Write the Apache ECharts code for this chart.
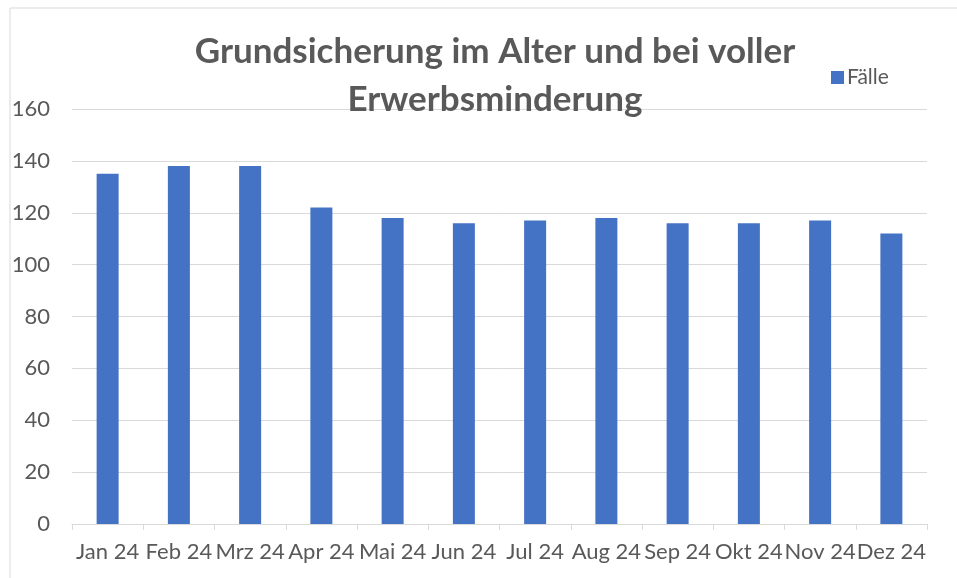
<!DOCTYPE html>
<html>
<head>
<meta charset="utf-8">
<script src="https://cdn.jsdelivr.net/npm/echarts@6/dist/echarts.min.js"></script>
<style>
  html, body { margin: 0; padding: 0; background: #fff; }
  #chart { width: 957px; height: 578px; }
</style>
</head>
<body>
<div id="chart"></div>
<script>
// Daten
const months = ['Jan 24', 'Feb 24', 'Mrz 24', 'Apr 24', 'Mai 24', 'Jun 24', 'Jul 24', 'Aug 24', 'Sep 24', 'Okt 24', 'Nov 24', 'Dez 24']
const faelle = [135, 138, 138, 122, 118, 116, 117, 118, 116, 116, 117, 112]
const seriesName = 'Fälle'
const titleText = 'Grundsicherung im Alter und bei voller\nErwerbsminderung'

const font = 'Lato, "Open Sans", sans-serif'
const grey = '#595959'

const chart = echarts.init(document.getElementById('chart'))
chart.setOption({
  backgroundColor: '#fff',
  animation: false,
  title: {
    text: titleText,
    left: 490,
    top: 23,
    textAlign: 'center',
    textStyle: {
      fontFamily: font,
      fontSize: 35,
      fontWeight: 'bold',
      color: grey,
      lineHeight: 48
    }
  },
  legend: {
    left: 826,
    top: 62,
    itemWidth: 13,
    itemHeight: 13,
    icon: 'rect',
    textStyle: { fontFamily: font, fontSize: 21, color: grey, padding: [0, 0, 0, -2] },
    data: [seriesName]
  },
  graphic: [{
    type: 'rect',
    shape: { x: 10, y: 8, width: 1000, height: 700 },
    style: { fill: 'none', stroke: '#d9d9d9', lineWidth: 1 },
    silent: true
  }],
  grid: { left: 72, right: 30, top: 109, bottom: 54 },
  xAxis: {
    type: 'category',
    data: months,
    axisLine: { lineStyle: { color: '#d9d9d9' } },
    axisTick: { show: true, length: 6, lineStyle: { color: '#d9d9d9' } },
    axisLabel: { fontFamily: font, fontSize: 22, color: grey, margin: 17, interval: 0 }
  },
  yAxis: {
    type: 'value',
    min: 0,
    max: 160,
    interval: 20,
    axisLine: { show: false },
    axisTick: { show: false },
    splitLine: { lineStyle: { color: '#d9d9d9' } },
    axisLabel: { fontFamily: font, fontSize: 22, color: grey, margin: 22 }
  },
  series: [{
    name: seriesName,
    type: 'bar',
    data: faelle,
    barWidth: 22,
    itemStyle: { color: '#4472c4' }
  }]
})
</script>
</body>
</html>
